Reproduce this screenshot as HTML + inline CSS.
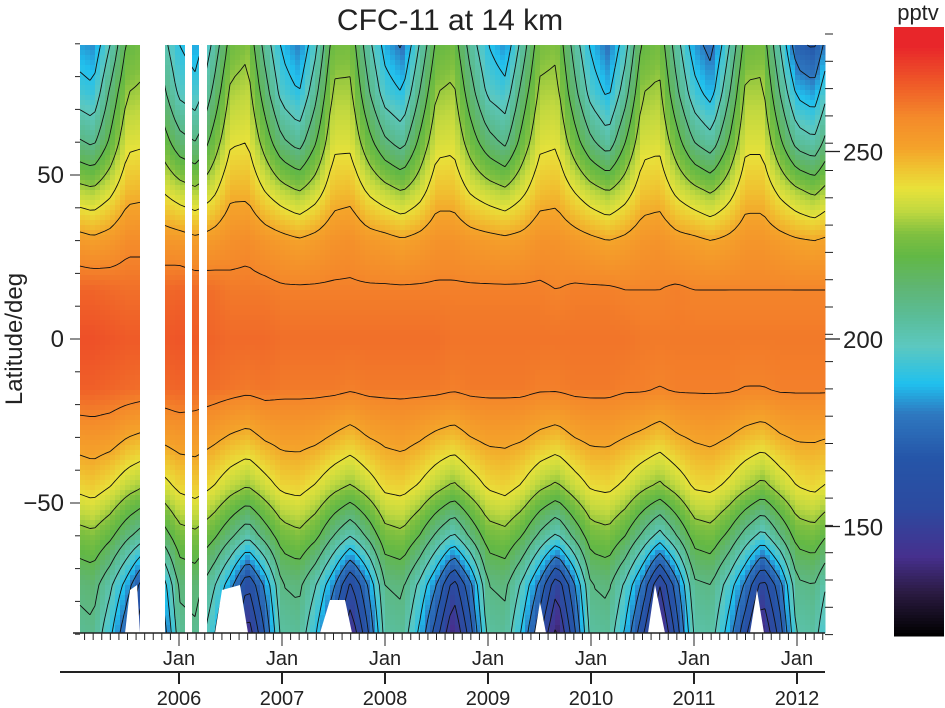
<!DOCTYPE html>
<html><head><meta charset="utf-8">
<style>
html,body{margin:0;padding:0;background:#fff;}
svg{display:block;font-family:"Liberation Sans",Arial,sans-serif;}
</style></head>
<body>
<svg id="chart" width="945" height="708" viewBox="0 0 945 708" xmlns="http://www.w3.org/2000/svg">
<text x="450" y="30" font-size="30" text-anchor="middle" fill="#222">CFC-11 at 14 km</text>
<g id="heat"></g>
<g id="contours" fill="none" stroke="#111" stroke-width="0.9"></g>
<g id="masks" fill="#fff"></g>
<g id="axes" stroke="#222" fill="none"></g>
<g id="labels" fill="#222"></g>
<text transform="translate(22,339) rotate(-90)" font-size="24" text-anchor="middle" fill="#222">Latitude/deg</text>
<g id="cbar"></g>
<text x="918" y="20" font-size="22" text-anchor="middle" fill="#222">pptv</text>
</svg>
<script>
// Data: latitude rows, time columns (every 2 months from Jan 2005)
const lats = [90,75,60,45,30,15,0,-15,-30,-45,-60,-75,-90];
const times = []; for (let k=0;k<45;k++) times.push(2005 + k/6);
const row90  = [185,182,200,222,226,205, 190,184,202,224,228,206, 188,180,198,225,226,204, 186,178,200,222,225,205, 190,182,204,226,228,206, 188,178,196,222,226,204, 184,176,198,224,226,200, 172,168,190];
const row75  = [195,192,212,230,232,214, 198,194,212,232,234,215, 196,190,208,232,232,212, 195,190,210,230,232,214, 198,194,214,232,233,214, 196,188,206,230,232,212, 194,186,208,232,232,210, 188,184,204];
const row60  = [212,208,222,238,239,226, 214,210,224,239,240,226, 212,206,220,238,238,224, 212,206,222,237,238,225, 214,208,224,238,239,225, 212,204,220,237,238,224, 210,204,220,238,238,222, 206,202,218];
const row45  = [234,232,238,247,248,240, 235,232,238,248,248,240, 234,230,236,246,247,239, 234,230,236,246,246,239, 235,232,238,246,247,240, 234,230,236,245,246,238, 233,229,236,246,246,238, 232,228,235];
const row30  = [254,252,254,258,258,255, 254,252,254,257,258,255, 253,251,253,256,257,254, 253,251,253,256,256,254, 253,252,253,256,256,254, 252,250,252,255,256,253, 252,250,252,255,255,253, 251,250,252];
const row15  = [266,266,265,264,264,265, 266,265,264,262,262,262, 261,261,261,261,261,261, 261,261,261,261,261,261, 261,261,261,261,260,261, 261,261,260,260,260,261, 260,260,260,260,260,260, 260,260,260];
const row0   = [270,270,269,268,268,268, 269,268,266,265,265,265, 264,264,264,264,264,264, 264,264,264,264,263,263, 263,263,263,263,263,263, 263,263,263,262,262,262, 262,262,262,262,262,262, 262,262,262];
const rowS15 = [267,267,266,265,264,265, 266,265,264,263,262,263, 262,262,262,262,261,262, 262,262,262,262,261,262, 262,262,262,261,261,262, 262,262,261,261,260,261, 261,261,261,260,260,261, 261,261,261];
const rowS30 = [254,255,254,250,248,252, 254,254,252,249,247,251, 253,253,252,249,246,250, 252,253,251,248,246,250, 252,252,251,248,246,250, 252,252,250,248,245,249, 251,252,250,247,245,249, 251,251,250];
const rowS45 = [242,244,240,234,230,236, 242,244,240,234,230,236, 242,243,239,233,229,235, 242,243,239,233,228,235, 241,243,239,232,228,235, 241,242,238,232,228,234, 241,242,238,232,227,234, 240,242,238];
const rowS60 = [226,228,222,212,204,214, 226,228,222,212,202,214, 225,228,222,210,200,212, 226,228,220,208,198,212, 225,227,220,208,198,212, 225,227,220,208,196,210, 224,226,218,206,196,210, 224,226,218];
const rowS75 = [212,214,202,185,162,182, 212,214,202,184,160,182, 210,212,200,182,158,180, 210,212,198,180,155,178, 210,212,198,178,152,178, 210,212,198,178,150,176, 208,210,196,178,155,176, 208,210,196];
const rowS90 = [206,208,192,170,145,170, 206,208,192,168,142,170, 204,206,190,166,140,168, 204,206,188,164,138,166, 204,206,188,162,136,166, 204,206,188,162,134,164, 202,204,186,162,138,164, 202,204,186];
const grid = [row90,row75,row60,row45,row30,row15,row0,rowS15,rowS30,rowS45,rowS60,rowS75,rowS90];
const levels = [140,150,160,170,180,190,200,210,220,230,240,250,260];
const yTicks = [50,0,-50];
const cTicks = [250,200,150];
const years = [2006,2007,2008,2009,2010,2011,2012];

const NS='http://www.w3.org/2000/svg';
const X0=80,X1=825,Y0=45,Y1=633;
const xOf = t => 179 + (t-2006)*103;
const yOf = lat => 339 - lat*(164/50);
const cY = v => 339 - (v-200)*3.75;
const stops=[[121,'#000000'],[132,'#2a1a40'],[142,'#46308e'],[155,'#2c4aa0'],[168,'#2555a8'],[180,'#2e78c0'],[188,'#20c0ee'],[198,'#5cc8c0'],[206,'#5abd98'],[214,'#5fb572'],[222,'#62b845'],[228,'#80c040'],[234,'#c0d840'],[240,'#e8e23a'],[246,'#f0c030'],[251,'#f4a22a'],[259,'#f48a2a'],[268,'#ef5a28'],[278,'#e8262a']];
function hex(h){return [1,3,5].map(i=>parseInt(h.substr(i,2),16));}
function color(v){
  if(v<=stops[0][0])return stops[0][1];
  for(let i=1;i<stops.length;i++){ if(v<=stops[i][0]){
    const a=hex(stops[i-1][1]),b=hex(stops[i][1]),f=(v-stops[i-1][0])/(stops[i][0]-stops[i-1][0]);
    return 'rgb('+a.map((c,j)=>Math.round(c+(b[j]-c)*f)).join(',')+')';}}
  return stops[stops.length-1][1];
}
function sample(t,lat){
  let ti=(t-times[0])/(times[1]-times[0]); ti=Math.max(0,Math.min(times.length-1.0001,ti));
  let li=0; while(li<lats.length-2 && lat<lats[li+1]) li++;
  let lf=(lats[li]-lat)/(lats[li]-lats[li+1]); lf=Math.max(0,Math.min(1,lf));
  const i=Math.floor(ti),f=ti-i;
  const a=grid[li][i]*(1-f)+grid[li][i+1]*f, b=grid[li+1][i]*(1-f)+grid[li+1][i+1]*f;
  return a*(1-lf)+b*lf;
}
const tAt = x => 2006+(x-179)/103;
const latAt = y => (339-y)*50/164;
const heat=document.getElementById('heat');
const S=5;
for(let x=X0;x<X1;x+=S){for(let y=Y0;y<Y1;y+=S){
  const r=document.createElementNS(NS,'rect');
  r.setAttribute('x',x);r.setAttribute('y',y);r.setAttribute('width',Math.min(S,X1-x)+0.5);r.setAttribute('height',Math.min(S,Y1-y)+0.5);
  r.setAttribute('fill',color(sample(tAt(x+S/2),latAt(y+S/2))));
  
  
  heat.appendChild(r);
}}
// contours via marching squares
const nx=Math.ceil((X1-X0)/S)+1, ny=Math.ceil((Y1-Y0)/S)+1;
const V=[];
for(let i=0;i<nx;i++){V.push([]);for(let j=0;j<ny;j++){V[i].push(sample(tAt(Math.min(X1,X0+i*S)),latAt(Math.min(Y1,Y0+j*S))));}}
const cg=document.getElementById('contours');
levels.forEach(L=>{
  let d='';
  for(let i=0;i<nx-1;i++)for(let j=0;j<ny-1;j++){
    const x0=Math.min(X1,X0+i*S),x1=Math.min(X1,X0+(i+1)*S),y0=Math.min(Y1,Y0+j*S),y1=Math.min(Y1,Y0+(j+1)*S);
    const c=[[x0,y0,V[i][j]],[x1,y0,V[i+1][j]],[x1,y1,V[i+1][j+1]],[x0,y1,V[i][j+1]]];
    const pts=[];
    for(let k=0;k<4;k++){const a=c[k],b=c[(k+1)%4];
      if((a[2]<L)!==(b[2]<L)){const f=(L-a[2])/(b[2]-a[2]);pts.push([a[0]+(b[0]-a[0])*f,a[1]+(b[1]-a[1])*f]);}}
    for(let k=0;k+1<pts.length;k+=2) d+='M'+pts[k][0].toFixed(1)+' '+pts[k][1].toFixed(1)+'L'+pts[k+1][0].toFixed(1)+' '+pts[k+1][1].toFixed(1);
  }
  const p=document.createElementNS(NS,'path');p.setAttribute('d',d);
  
  
  cg.appendChild(p);
});
const masks=document.getElementById('masks');
function poly(pts,name){const p=document.createElementNS(NS,'polygon');p.setAttribute('points',pts);
  
  
  masks.appendChild(p);}
poly('140,45 165,45 165,633 140,633','gap-1');
poly('185,45 192,45 192,633 185,633','gap-2');
poly('199,45 207,45 207,633 199,633','gap-3');
poly('125,633 130,590 137,585 140,633','hole-a');
poly('215,633 222,590 240,585 248,633','hole-b');
poly('320,633 330,600 345,600 352,633','hole-c');
poly('535,633 540,602 546,633','hole-d');
poly('648,633 655,585 665,633','hole-e');
poly('750,633 757,590 764,633','hole-f');
// axes
const ax=document.getElementById('axes'), lb=document.getElementById('labels');
function line(x1,y1,x2,y2,name,w){const l=document.createElementNS(NS,'line');
  l.setAttribute('x1',x1);l.setAttribute('y1',y1);l.setAttribute('x2',x2);l.setAttribute('y2',y2);l.setAttribute('stroke-width',w||1.3);
  
  
  ax.appendChild(l);}
function text(x,y,s,size,anchor,name){const t=document.createElementNS(NS,'text');
  t.setAttribute('x',x);t.setAttribute('y',y);t.setAttribute('font-size',size);t.setAttribute('text-anchor',anchor);t.textContent=s;
  
  
  lb.appendChild(t);}
line(73,633,X1,633,'x-axis-line',1.5);
line(60,672,X1,672,'year-axis-line',2);
for(let m=0;;m++){const x=xOf(2005+m/12); if(x>X1)break; if(x<X0)continue;
  const jan=(m%12===0); line(x,633,x,jan?646:640,'month-tick',1);}
years.forEach(y=>{const x=xOf(y); text(x,665,'Jan',20,'middle','jan-label'); line(x,672,x,684,'year-tick',2); text(x,705,String(y),20,'middle','year-label');});
for(let lat=-90;lat<=90;lat+=10){const y=yOf(lat); const maj=yTicks.indexOf(lat)>=0; line(maj?70:75,y,X0,y,'y-tick',1);}
yTicks.forEach(v=>text(64,yOf(v)+8,v<0?'\u2212'+(-v):String(v),24,'end','y-tick-label'));
// right axis / colorbar
const cb=document.getElementById('cbar');
for(let y=27;y<636;y+=3){const v=200-(y+1.5-339)/3.75;const r=document.createElementNS(NS,'rect');
  r.setAttribute('x',894);r.setAttribute('y',y);r.setAttribute('width',50);r.setAttribute('height',3.5);r.setAttribute('fill',color(v));
  
  
  cb.appendChild(r);}
for(let y=34;y<636;y+=27.3){line(X1,y,833,y,'colorbar-minor-tick',1);}
cTicks.forEach(v=>{line(X1,cY(v),840,cY(v),'colorbar-tick',1.3);text(843,cY(v)+9,String(v),24,'start','colorbar-tick-label');});
</script>
</body></html>
